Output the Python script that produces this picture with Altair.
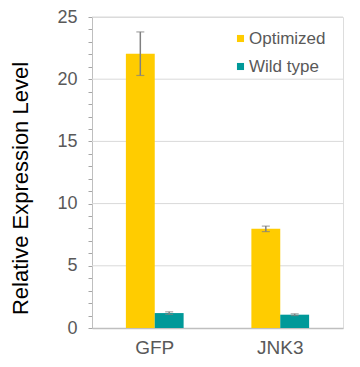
import altair as alt
import pandas as pd

genes = ["GFP", "GFP", "JNK3", "JNK3"]
series = ["Optimized", "Wild type", "Optimized", "Wild type"]
values = [22.05, 1.2, 7.97, 1.07]
errors = [1.75, 0.1, 0.22, 0.07]
tick_values = list(range(0, 26))
grid_values = [5, 10, 15, 20, 25]

df = pd.DataFrame({"gene": genes, "series": series, "value": values, "err": errors})
df["lo"] = df["value"] - df["err"]
df["hi"] = df["value"] + df["err"]
grid_df = pd.DataFrame({"g": grid_values})

FONT = "Liberation Sans"
colors = ["#FFCC00", "#009999"]

yscale = alt.Scale(domain=[0, 25], nice=False)
yaxis = alt.Axis(values=tick_values,
                 labelExpr="datum.value % 5 === 0 ? datum.label : ''",
                 labelOverlap=False, grid=False,
                 tickSize=4, tickColor="#a6a6a6",
                 domainColor="#bfbfbf", labelFontSize=18, labelColor="#595959",
                 labelFont=FONT, labelPadding=11, titleFont=FONT, titleFontSize=22,
                 titleFontWeight="normal", titleColor="#000000", titlePadding=24,
                 titleY=171)

x = alt.X("gene:N", title=None,
          scale=alt.Scale(paddingInner=0.54, paddingOuter=0.27),
          axis=alt.Axis(labelAngle=0, labelFontSize=19, labelColor="#595959", labelFont=FONT,
                        labelPadding=10, ticks=False, domainColor="#bfbfbf", domainWidth=1.5))
xo = alt.XOffset("series:N", sort=["Optimized", "Wild type"])

grid = alt.Chart(grid_df).mark_rule(color="#d9d9d9", strokeWidth=1).encode(
    y=alt.Y("g:Q", scale=yscale, axis=yaxis, title="Relative Expression Level"))

bars = alt.Chart(df).mark_bar().encode(
    x=x,
    xOffset=xo,
    y=alt.Y("value:Q", scale=yscale, axis=yaxis, title="Relative Expression Level"),
    color=alt.Color("series:N", scale=alt.Scale(domain=["Optimized", "Wild type"], range=colors),
                    legend=alt.Legend(title=None, orient="none", legendX=140, legendY=13,
                                      symbolType="square", symbolSize=50, symbolStrokeWidth=0,
                                      labelFontSize=17, labelColor="#595959", labelFont=FONT,
                                      rowPadding=10, labelOffset=0)),
)

rules = alt.Chart(df).mark_rule(color="#808080", strokeWidth=1.5).encode(
    x=alt.X("gene:N"), xOffset=xo,
    y=alt.Y("lo:Q", scale=yscale, axis=yaxis, title="Relative Expression Level"), y2="hi:Q")
cap_hi = alt.Chart(df).mark_tick(color="#808080", thickness=1.2, size=8, orient="horizontal").encode(
    x=alt.X("gene:N"), xOffset=xo,
    y=alt.Y("hi:Q", scale=yscale, axis=yaxis, title="Relative Expression Level"))
cap_lo = alt.Chart(df).mark_tick(color="#808080", thickness=1.2, size=8, orient="horizontal").encode(
    x=alt.X("gene:N"), xOffset=xo,
    y=alt.Y("lo:Q", scale=yscale, axis=yaxis, title="Relative Expression Level"))

chart = alt.layer(grid, bars, rules, cap_hi, cap_lo).properties(
    width=251, height=311,
    autosize=alt.AutoSizeParams(type="none"),
    padding={"left": 84, "top": 9, "right": 8, "bottom": 30},
).configure_view(stroke="#c8c8c8", strokeWidth=1.5).configure(background="white")

chart.save("out.html", embed_options={"renderer": "svg", "actions": False})
